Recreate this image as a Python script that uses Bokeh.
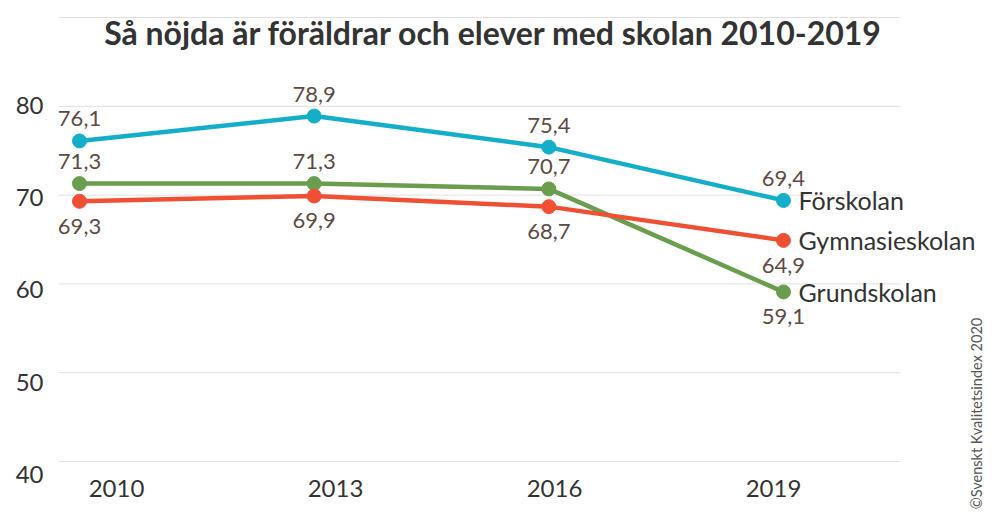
import math
from bokeh.plotting import figure
from bokeh.models import (ColumnDataSource, Range1d, LinearAxis, FixedTicker, Label)
from bokeh.core.properties import value
from bokeh.embed import file_html
from bokeh.resources import INLINE

# ---- data ----
years = [2010, 2013, 2016, 2019]
forskolan = [76.1, 78.9, 75.4, 69.4]
grundskolan = [71.3, 71.3, 70.7, 59.1]
gymnasieskolan = [69.3, 69.9, 68.7, 64.9]
series_names = ["Förskolan", "Gymnasieskolan", "Grundskolan"]
y_ticks = [40, 50, 60, 70, 80, 90]
x_tick_labels = ["2010", "2013", "2016", "2019"]
title_text = "Så nöjda är föräldrar och elever med skolan 2010-2019"
credit_text = "©Svenskt Kvalitetsindex 2020"

# ---- styles / layout ----
FONT = "Lato"
C_FOR = "#14AEC8"
C_GRU = "#6A9D4E"
C_GYM = "#EF5033"
C_VAL = "#5E4A44"
C_TXT = "#333333"
X0, X1 = 2009.7315, 2021.570       # main x range (frame 58..984 px)
Y0, Y1 = 34.595, 90.225            # y range (frame 15..509 px)
GRID_X_END = 2020.4958             # grid lines stop at ~900 px
LX0, LX1 = 2009.2055, 2021.890     # range used to place the year labels
LY0, LY1 = 36.206, 89.756          # range used to place the value-axis labels
CREDIT_X, CREDIT_Y = 2021.468, 45.4

p = figure(width=984, height=509, output_backend="svg", toolbar_location=None,
           x_range=Range1d(X0, X1), y_range=Range1d(Y0, Y1),
           x_axis_type=None, y_axis_type=None,
           min_border_left=58, min_border_right=0,
           min_border_top=15, min_border_bottom=0)
p.outline_line_color = None
p.background_fill_color = "white"
p.border_fill_color = "white"

# y axis (label positions on own range)
p.extra_y_ranges = {"ylab": Range1d(LY0, LY1)}
yax = LinearAxis(y_range_name="ylab", ticker=FixedTicker(ticks=y_ticks[:-1]))
yax.axis_line_color = None
yax.major_tick_line_color = None
yax.minor_tick_line_color = None
yax.major_tick_out = 0
yax.major_tick_in = 0
yax.major_label_standoff = 15
yax.major_label_text_font = FONT
yax.major_label_text_font_size = "24px"
yax.major_label_text_color = C_TXT
p.add_layout(yax, "left")

# horizontal grid lines, limited to the plotting area on the left
p.segment(x0=[X0] * len(y_ticks), x1=[GRID_X_END] * len(y_ticks),
          y0=y_ticks, y1=y_ticks, line_color="#E4DEDE", line_width=1)

# x axis (label positions on own range), pinned under the 40 line
p.extra_x_ranges = {"lab": Range1d(LX0, LX1)}
xax = LinearAxis(x_range_name="lab", ticker=FixedTicker(ticks=years),
                 fixed_location=y_ticks[0],
                 major_label_overrides={y: s for y, s in zip(years, x_tick_labels)})
xax.axis_line_color = None
xax.major_tick_line_color = None
xax.minor_tick_line_color = None
xax.major_tick_out = 0
xax.major_tick_in = 0
xax.major_label_standoff = 18
xax.major_label_text_font = FONT
xax.major_label_text_font_size = "24px"
xax.major_label_text_color = C_TXT
p.add_layout(xax, "below")

series = [
    (grundskolan, C_GRU, [-1, -1, -1, 1]),
    (gymnasieskolan, C_GYM, [1, 1, 1, 1]),
    (forskolan, C_FOR, [-1, -1, -1, -1]),
]
for vals, col, pos in series:
    p.line(years, vals, line_color=col, line_width=4.5)
    p.scatter(years, vals, size=14, fill_color=col, line_color=col)

for vals, col, pos in series:
    src = ColumnDataSource(dict(
        x=years, y=vals,
        t=[("%.1f" % v).replace(".", ",") for v in vals],
        dy=[-22 if s < 0 else 25 for s in pos],
    ))
    p.text(x="x", y="y", text="t", y_offset="dy", source=src,
           text_align="center", text_baseline="middle",
           text_font=value(FONT), text_font_size="22px", text_color=C_VAL)

# series names at end of lines
last_vals = [forskolan[-1], gymnasieskolan[-1], grundskolan[-1]]
name_src = ColumnDataSource(dict(x=[years[-1]] * 3, y=last_vals, t=series_names))
p.text(x="x", y="y", text="t", source=name_src, x_offset=15,
       text_align="left", text_baseline="middle",
       text_font=value(FONT), text_font_size="25px", text_color=C_TXT)

# credit, vertical text at the right edge
p.text(x=[CREDIT_X], y=[CREDIT_Y], text=[credit_text], angle=math.pi / 2,
       text_align="center", text_baseline="middle",
       text_font=value(FONT), text_font_size="14.5px", text_color="#555555")

# title inside the plot
p.add_layout(Label(x=2015.293, y=88.3, text=title_text, text_align="center",
                   text_baseline="middle", text_font=FONT, text_font_size="32px",
                   text_font_style="bold", text_color=C_TXT))

open("out.html", "w").write(file_html(p, INLINE))
